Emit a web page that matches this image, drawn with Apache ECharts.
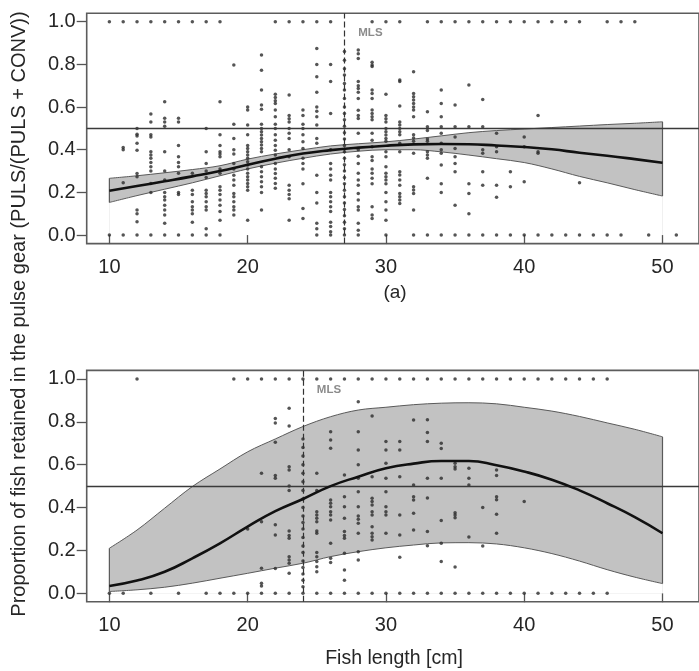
<!DOCTYPE html>
<html><head><meta charset="utf-8">
<script src="https://cdn.jsdelivr.net/npm/echarts@6/dist/echarts.min.js"></script>
<style>html,body{margin:0;padding:0;background:#fff}#c{width:699px;height:671px}</style>
</head><body><div id="c"></div><script>
// ---------- data ----------
const xTicks = [10, 20, 30, 40, 50];
const yTicks = [0, 0.2, 0.4, 0.6, 0.8, 1.0];
const mlsTop = 27;
const mlsBottom = 24;
const refLevel = 0.5;

// fitted curves and confidence bands (x in cm)
const fitX   = [10, 12, 14, 16, 18, 20, 22, 24, 26, 28, 30, 32, 34, 36, 38, 40, 42, 44, 46, 48, 50];
const topFit = [0.208, 0.23, 0.252, 0.275, 0.30, 0.33, 0.358, 0.382, 0.398, 0.41, 0.419, 0.425, 0.427, 0.426, 0.42, 0.413, 0.402, 0.386, 0.372, 0.356, 0.339];
const topLo  = [0.153, 0.185, 0.215, 0.245, 0.278, 0.31, 0.337, 0.36, 0.38, 0.393, 0.40, 0.40, 0.39, 0.375, 0.358, 0.34, 0.31, 0.275, 0.245, 0.213, 0.183];
const topHi  = [0.266, 0.278, 0.292, 0.307, 0.325, 0.356, 0.38, 0.40, 0.418, 0.428, 0.437, 0.45, 0.465, 0.48, 0.49, 0.497, 0.504, 0.511, 0.518, 0.524, 0.531];
const botFit = [0.034, 0.059, 0.10, 0.163, 0.233, 0.311, 0.383, 0.44, 0.50, 0.544, 0.583, 0.605, 0.617, 0.617, 0.597, 0.568, 0.53, 0.48, 0.42, 0.355, 0.28];
const botLo  = [0.008, 0.016, 0.028, 0.047, 0.07, 0.093, 0.117, 0.14, 0.171, 0.194, 0.212, 0.225, 0.235, 0.236, 0.23, 0.212, 0.185, 0.15, 0.11, 0.075, 0.045];
const botHi  = [0.21, 0.295, 0.397, 0.498, 0.58, 0.66, 0.72, 0.778, 0.824, 0.855, 0.868, 0.88, 0.887, 0.889, 0.884, 0.868, 0.85, 0.825, 0.795, 0.765, 0.73];

// observed proportions, panel (a)
const topOnes  = [10,11,12,13,14,15,16,17,18,22,23,24,25,26,29,30,31,33,34,35,36,37,38,39,40,41,42,43,44,46,47,48];
const topZeros = [10,11,12,13,14,15,16,17,18,25,26,27,28,30,32,33,34,35,36,37,38,39,40,41,42,43,44,45,46,47,49,51];
const topMid = [
  [11, 0.41, 0.40, 0.245],
  [12, 0.50, 0.473, 0.464, 0.43, 0.398, 0.289, 0.273, 0.117, 0.10, 0.0625],
  [13, 0.567, 0.53, 0.47, 0.46, 0.39, 0.375, 0.36, 0.34, 0.32, 0.30, 0.242, 0.20],
  [14, 0.625, 0.547, 0.53, 0.51, 0.39, 0.30, 0.258, 0.20, 0.18, 0.164, 0.14, 0.117, 0.094, 0.055],
  [15, 0.547, 0.53, 0.42, 0.367, 0.34, 0.32, 0.29, 0.20, 0.19],
  [16, 0.29, 0.21, 0.19, 0.156, 0.133, 0.117, 0.10, 0.06],
  [17, 0.50, 0.39, 0.336, 0.30, 0.27, 0.21, 0.195, 0.18, 0.156, 0.133, 0.117, 0.03],
  [18, 0.625, 0.47, 0.42, 0.39, 0.38, 0.367, 0.31, 0.29, 0.227, 0.21, 0.19, 0.164, 0.14, 0.11, 0.07],
  [19, 0.797, 0.52, 0.453, 0.40, 0.38, 0.336, 0.31, 0.28, 0.258, 0.234, 0.195, 0.18, 0.156, 0.133, 0.117, 0.094],
  [20, 0.60, 0.586, 0.516, 0.47, 0.42, 0.406, 0.39, 0.375, 0.36, 0.344, 0.328, 0.31, 0.29, 0.273, 0.258, 0.242, 0.227, 0.21, 0.07],
  [21, 0.844, 0.773, 0.68, 0.61, 0.59, 0.52, 0.5, 0.484, 0.469, 0.453, 0.438, 0.422, 0.406, 0.39, 0.32, 0.297, 0.273, 0.25, 0.227, 0.2, 0.117],
  [22, 0.66, 0.645, 0.63, 0.617, 0.586, 0.555, 0.52, 0.5, 0.47, 0.445, 0.42, 0.398, 0.375, 0.336, 0.31, 0.289, 0.266, 0.242, 0.22],
  [23, 0.656, 0.56, 0.545, 0.53, 0.5, 0.477, 0.453, 0.40, 0.367, 0.234, 0.21, 0.19, 0.17, 0.07],
  [24, 0.586, 0.56, 0.52, 0.5, 0.47, 0.438, 0.406, 0.36, 0.336, 0.31, 0.24, 0.125, 0.078],
  [25, 0.875, 0.80, 0.742, 0.67, 0.60, 0.58, 0.555, 0.516, 0.453, 0.43, 0.28, 0.20, 0.15, 0.055, 0.03],
  [26, 0.80, 0.72, 0.57, 0.40, 0.336, 0.31, 0.28, 0.258, 0.20, 0.18, 0.156, 0.133, 0.11, 0.06, 0.04, 0.015],
  [27, 0.86, 0.82, 0.78, 0.75, 0.71, 0.68, 0.64, 0.60, 0.57, 0.54, 0.51, 0.48, 0.45, 0.42, 0.39, 0.36, 0.33, 0.30, 0.27, 0.24, 0.21, 0.18, 0.15, 0.12, 0.09, 0.06, 0.03],
  [28, 0.867, 0.85, 0.828, 0.72, 0.70, 0.687, 0.67, 0.64, 0.585, 0.56, 0.546, 0.477, 0.40, 0.37, 0.336, 0.29, 0.258, 0.234, 0.195, 0.164, 0.133, 0.117, 0.055, 0.023],
  [29, 0.81, 0.797, 0.79, 0.68, 0.664, 0.64, 0.586, 0.57, 0.555, 0.54, 0.477, 0.445, 0.414, 0.367, 0.35, 0.31, 0.29, 0.266, 0.24, 0.133, 0.094, 0.078],
  [30, 0.66, 0.56, 0.545, 0.53, 0.50, 0.484, 0.469, 0.453, 0.44, 0.39, 0.367, 0.32, 0.29, 0.273, 0.258, 0.24, 0.20, 0.156, 0.117, 0.07],
  [31, 0.727, 0.72, 0.605, 0.53, 0.516, 0.5, 0.484, 0.47, 0.43, 0.39, 0.297, 0.281, 0.258, 0.234, 0.195, 0.18, 0.164, 0.148],
  [32, 0.766, 0.664, 0.648, 0.633, 0.617, 0.60, 0.586, 0.555, 0.47, 0.455, 0.44, 0.383, 0.227, 0.211, 0.195, 0.117],
  [33, 0.578, 0.508, 0.49, 0.45, 0.44, 0.39, 0.375, 0.36, 0.266],
  [34, 0.68, 0.617, 0.555, 0.508, 0.477, 0.43, 0.40, 0.383, 0.328, 0.24, 0.20],
  [35, 0.61, 0.508, 0.46, 0.406, 0.367, 0.336, 0.297, 0.14],
  [36, 0.703, 0.508, 0.24, 0.195, 0.10],
  [37, 0.636, 0.508, 0.40, 0.383, 0.297, 0.234],
  [38, 0.477, 0.414, 0.39, 0.234, 0.177],
  [39, 0.297, 0.227],
  [40, 0.46, 0.414, 0.25],
  [41, 0.56, 0.39, 0.383],
  [44, 0.245]
];

// observed proportions, panel (b)
const botOnes  = [12,19,20,21,22,23,24,25,26,27,28,29,30,31,32,33,34,35,36,37,38,39,40,41,42,43,44,45,46];
const botZeros = [10,11,13,15,17,18,19,20,21,22,23,24,25,26,27,28,29,30,31,32,33,34,35,36,37,38,39,40,41,42,43,44,45,46];
const botMid = [
  [20, 0.30],
  [21, 0.56, 0.334, 0.117, 0.047, 0.034],
  [22, 0.815, 0.795, 0.705, 0.55, 0.537, 0.32, 0.272, 0.115],
  [23, 0.863, 0.78, 0.59, 0.575, 0.50, 0.48, 0.29, 0.27, 0.257, 0.17, 0.155, 0.14, 0.093],
  [24, 0.72, 0.68, 0.64, 0.6, 0.56, 0.52, 0.48, 0.44, 0.40, 0.36, 0.33, 0.30, 0.26, 0.22, 0.19, 0.15, 0.12, 0.09, 0.06, 0.03],
  [25, 0.56, 0.48, 0.38, 0.365, 0.35, 0.334, 0.29, 0.28, 0.19, 0.17, 0.148, 0.124, 0.10],
  [26, 0.754, 0.715, 0.677, 0.435, 0.42, 0.404, 0.38, 0.365, 0.342, 0.233, 0.163, 0.143],
  [27, 0.552, 0.45, 0.404, 0.35, 0.288, 0.27, 0.257, 0.187, 0.109, 0.06],
  [28, 0.894, 0.754, 0.669, 0.60, 0.537, 0.474, 0.404, 0.36, 0.345, 0.327, 0.28, 0.194, 0.155],
  [29, 0.827, 0.544, 0.443, 0.428, 0.412, 0.38, 0.365, 0.31, 0.28, 0.264, 0.249],
  [30, 0.708, 0.669, 0.607, 0.537, 0.474, 0.404, 0.38, 0.365, 0.28],
  [31, 0.708, 0.669, 0.544, 0.365, 0.272, 0.168],
  [32, 0.809, 0.505, 0.45, 0.435, 0.373, 0.295],
  [33, 0.81, 0.75, 0.708, 0.537, 0.445, 0.288, 0.222],
  [34, 0.70, 0.675, 0.537, 0.34, 0.233, 0.148],
  [35, 0.607, 0.59, 0.58, 0.376, 0.365, 0.352, 0.122],
  [36, 0.583, 0.537, 0.505, 0.262],
  [37, 0.40, 0.22],
  [38, 0.575, 0.55, 0.45, 0.436, 0.369, 0.28],
  [40, 0.428]
];

// ---------- build ----------
function points(ones, zeros, mid) {
  const p = [];
  ones.forEach(x => p.push([x, 1]));
  zeros.forEach(x => p.push([x, 0]));
  mid.forEach(col => { for (let i = 1; i < col.length; i++) p.push([col[0], col[i]]); });
  return p;
}
const FONT = 'Liberation Sans, Arial, sans-serif';
const TXT = '#262626';
const BAND_FILL = '#c2c2c2';
const BAND_EDGE = '#5a5a5a';

// band: grey area under the upper bound, white area under the lower bound
function bandSeries(idx, lo, hi) {
  return [
    { type: 'line', xAxisIndex: idx, yAxisIndex: idx, z: 1, silent: true,
      smooth: 0.35, showSymbol: false, symbol: 'none',
      lineStyle: { color: BAND_EDGE, width: 1 },
      areaStyle: { color: BAND_FILL, opacity: 1, origin: 0 },
      data: fitX.map((x, i) => [x, hi[i]]) },
    { type: 'line', xAxisIndex: idx, yAxisIndex: idx, z: 2, silent: true,
      smooth: 0.35, showSymbol: false, symbol: 'none',
      lineStyle: { color: BAND_EDGE, width: 1 },
      areaStyle: { color: '#ffffff', opacity: 1, origin: 0 },
      data: fitX.map((x, i) => [x, lo[i]]) },
    { type: 'custom', xAxisIndex: idx, yAxisIndex: idx, z: 2, silent: true,
      data: [[fitX[0], lo[0], hi[0]], [fitX[fitX.length - 1], lo[lo.length - 1], hi[hi.length - 1]]],
      renderItem: function (params, api) {
        const a = api.coord([api.value(0), api.value(1)]);
        const b = api.coord([api.value(0), api.value(2)]);
        return { type: 'line', shape: { x1: a[0], y1: a[1], x2: b[0], y2: b[1] },
          style: { stroke: BAND_EDGE, lineWidth: 1.2 } };
      } }
  ];
}
function scatterSeries(idx, data, mls) {
  return {
    type: 'scatter', xAxisIndex: idx, yAxisIndex: idx, z: 3, silent: true,
    symbolSize: 3.5, itemStyle: { color: '#2b2b2b' }, data: data,
    markLine: {
      silent: true, symbol: ['none', 'none'], label: { show: false }, animation: false,
      data: [
        { yAxis: refLevel, lineStyle: { color: '#3a3a3a', width: 1.3, type: 'solid' } },
        { xAxis: mls, lineStyle: { color: '#333', width: 1.2, type: [6, 3] } }
      ]
    }
  };
}
function fitSeries(idx, fit) {
  return {
    type: 'line', xAxisIndex: idx, yAxisIndex: idx, z: 5, silent: true,
    smooth: true, showSymbol: false, symbol: 'none',
    lineStyle: { color: '#111', width: 2.6 },
    data: fitX.map((x, i) => [x, fit[i]])
  };
}
function mlsLabel(idx, mls) {
  return {
    type: 'scatter', xAxisIndex: idx, yAxisIndex: idx, z: 6, silent: true,
    symbolSize: 0, data: [[mls + 1, 0.95]],
    label: { show: true, formatter: 'MLS', position: 'right', distance: 0,
      color: '#6e6e6e', fontSize: 11.5, fontFamily: FONT, fontWeight: 'bold' }
  };
}
function xAx(idx) {
  return {
    type: 'value', gridIndex: idx, min: 8.36, max: 52.64,
    axisLine: { show: false },
    axisTick: { show: true, customValues: xTicks, length: 9, lineStyle: { color: '#555', width: 1.3 } },
    axisLabel: { customValues: xTicks, margin: 14, fontSize: 20, color: TXT, fontFamily: FONT },
    splitLine: { show: false }
  };
}
function yAx(idx) {
  return {
    type: 'value', gridIndex: idx, min: -0.04, max: 1.04,
    axisLine: { show: false },
    axisTick: { show: true, customValues: yTicks, length: 10, lineStyle: { color: '#555', width: 1.3 } },
    axisLabel: { customValues: yTicks, margin: 11, fontSize: 20, color: TXT, fontFamily: FONT,
      formatter: v => v.toFixed(1) },
    splitLine: { show: false }
  };
}

const chart = echarts.init(document.getElementById('c'), null, { renderer: 'canvas' });
chart.setOption({
  animation: false,
  backgroundColor: '#fff',
  grid: [
    { left: 86.7, width: 629.6, top: 13.2, height: 230.4, show: true, borderColor: '#5c5c5c', borderWidth: 1.6, backgroundColor: 'transparent' },
    { left: 86.7, width: 629.6, top: 370.4, height: 231.4, show: true, borderColor: '#5c5c5c', borderWidth: 1.6, backgroundColor: 'transparent' }
  ],
  xAxis: [xAx(0), xAx(1)],
  yAxis: [yAx(0), yAx(1)],
  series: [].concat(
    bandSeries(0, topLo, topHi),
    [scatterSeries(0, points(topOnes, topZeros, topMid), mlsTop),
     fitSeries(0, topFit),
     mlsLabel(0, mlsTop)],
    bandSeries(1, botLo, botHi),
    [scatterSeries(1, points(botOnes, botZeros, botMid), mlsBottom),
     fitSeries(1, botFit),
     mlsLabel(1, mlsBottom)]
  ),
  graphic: [
    { type: 'text', x: 19, y: 314, rotation: Math.PI / 2,
      style: { text: 'Proportion of fish retained in the pulse gear (PULS/(PULS + CONV))',
        font: '20px ' + FONT, fill: TXT, textAlign: 'center', textVerticalAlign: 'middle' } },
    { type: 'text', x: 395, y: 293,
      style: { text: '(a)', font: '19px ' + FONT, fill: TXT, textAlign: 'center', textVerticalAlign: 'middle' } },
    { type: 'text', x: 394, y: 659,
      style: { text: 'Fish length [cm]', font: '19.5px ' + FONT, fill: TXT, textAlign: 'center', textVerticalAlign: 'middle' } }
  ]
});
</script></body></html>
